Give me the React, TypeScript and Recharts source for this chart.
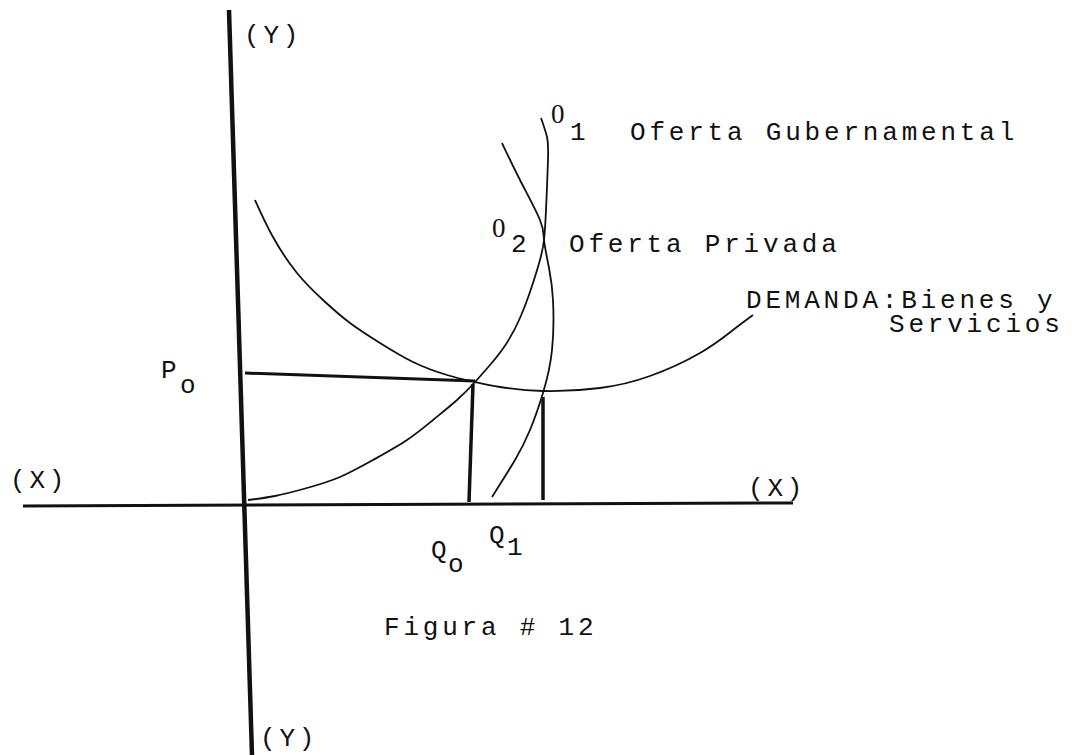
import { ComposedChart, Line, Scatter, XAxis, YAxis } from "recharts";

// units: quantity (x) and price (y), origin where the two axes meet
const yAxisLine = [
  { x: -1.4, y: 49.5 },
  { x: 0.9, y: -25 },
];
const xAxisLine = [
  { x: -22, y: -0.1 },
  { x: 55, y: 0.2 },
];

const priceP0 = [
  { x: 0.2, y: 13.2 },
  { x: 23.2, y: 12.4 },
];
const dropQ0 = [
  { x: 23, y: 12.1 },
  { x: 22.6, y: 0.3 },
];
const dropQ1 = [
  { x: 30, y: 10.8 },
  { x: 30, y: 0.5 },
];

const demanda = [
  { x: 1.2, y: 30.5 },
  { x: 3, y: 26.8 },
  { x: 5.4, y: 23.2 },
  { x: 8, y: 20.5 },
  { x: 10.7, y: 18.2 },
  { x: 13.7, y: 16.2 },
  { x: 17, y: 14.3 },
  { x: 20.4, y: 13 },
  { x: 23.2, y: 12.3 },
  { x: 25.7, y: 11.8 },
  { x: 30, y: 11.4 },
  { x: 35.7, y: 11.7 },
  { x: 40.7, y: 12.9 },
  { x: 45.7, y: 15.2 },
  { x: 49, y: 17.5 },
  { x: 51, y: 19 },
];

const oferta1 = [
  { x: 0.5, y: 0.5 },
  { x: 3.2, y: 0.9 },
  { x: 6.4, y: 1.7 },
  { x: 9.7, y: 2.8 },
  { x: 13, y: 4.5 },
  { x: 16.4, y: 6.5 },
  { x: 19, y: 8.5 },
  { x: 21.4, y: 10.5 },
  { x: 23.2, y: 12.3 },
  { x: 24.7, y: 14 },
  { x: 25.9, y: 15.5 },
  { x: 27.7, y: 18.7 },
  { x: 29.5, y: 23.8 },
  { x: 30.1, y: 26.5 },
  { x: 30.3, y: 29.5 },
  { x: 30.5, y: 34.5 },
  { x: 30.4, y: 36.8 },
  { x: 29.8, y: 38.7 },
];

const oferta2 = [
  { x: 24.9, y: 0.8 },
  { x: 27.2, y: 4.5 },
  { x: 28.7, y: 7.5 },
  { x: 30, y: 11.2 },
  { x: 30.9, y: 15.5 },
  { x: 31, y: 20.5 },
  { x: 30.6, y: 23.7 },
  { x: 30.1, y: 26.5 },
  { x: 29.7, y: 28.5 },
  { x: 27.7, y: 32.5 },
  { x: 25.9, y: 36.2 },
];

const labels = [
  { x: 0.1, y: 46.2, text: "(Y)" },
  { x: 30.8, y: 38.2, text: "0" },
  { x: 32.7, y: 36.5, text: "1" },
  { x: 38.7, y: 36.5, text: "Oferta Gubernamental" },
  { x: 24.9, y: 26.8, text: "0" },
  { x: 26.8, y: 25.3, text: "2" },
  { x: 32.6, y: 25.3, text: "Oferta Privada" },
  { x: 50.3, y: 19.7, text: "DEMANDA:Bienes y" },
  { x: 64.6, y: 17.3, text: "Servicios" },
  { x: -8.2, y: 12.7, text: "P" },
  { x: -6.3, y: 11.2, text: "o" },
  { x: -23.3, y: 1.7, text: "(X)" },
  { x: 50.5, y: 0.9, text: "(X)" },
  { x: 18.8, y: -5.3, text: "Q" },
  { x: 20.5, y: -6.7, text: "o" },
  { x: 24.6, y: -3.8, text: "Q" },
  { x: 26.4, y: -5, text: "1" },
  { x: 14.1, y: -13, text: "Figura # 12" },
  { x: 1.7, y: -24.1, text: "(Y)" },
];

const W = 1081;
const H = 755;
const INK = "#111";

const TextMark = (props: any) => {
  const { cx, cy, payload } = props;
  // typewriter zero has no dot in the middle
  const family = payload.text === "0" ? "'Liberation Serif', serif" : "'Liberation Mono', monospace";
  return (
    <text
      x={cx}
      y={cy}
      fill={INK}
      fontSize={payload.text === "0" ? 27 : 26}
      letterSpacing={3.8}
      fontFamily={family}
    >
      {payload.text}
    </text>
  );
};

export default function App() {
  const thin = { stroke: INK, strokeWidth: 1.8, dot: false, isAnimationActive: false } as const;
  const thick = { stroke: INK, strokeWidth: 3.5, dot: false, isAnimationActive: false } as const;

  return (
    <div style={{ position: "absolute", left: 0, top: 0, background: "#fff" }}>
      <ComposedChart width={W} height={H} margin={{ top: 0, right: 0, bottom: 0, left: 0 }}>
        <XAxis type="number" dataKey="x" domain={[-24.3, 83.8]} hide allowDataOverflow />
        <YAxis type="number" dataKey="y" domain={[-25, 50.5]} hide width={0} allowDataOverflow />
        <Line data={yAxisLine} dataKey="y" type="linear" {...thick} strokeWidth={4.5} />
        <Line data={xAxisLine} dataKey="y" type="linear" {...thick} strokeWidth={3} />
        <Line data={priceP0} dataKey="y" type="linear" {...thick} strokeWidth={3} />
        <Line data={dropQ0} dataKey="y" type="linear" {...thick} />
        <Line data={dropQ1} dataKey="y" type="linear" {...thick} />
        <Line data={demanda} dataKey="y" type="natural" {...thin} />
        <Line data={oferta1} dataKey="y" type="natural" {...thin} />
        <Line data={oferta2} dataKey="y" type="natural" {...thin} />
        <Scatter data={labels} dataKey="y" shape={TextMark} isAnimationActive={false} />
      </ComposedChart>
    </div>
  );
}
